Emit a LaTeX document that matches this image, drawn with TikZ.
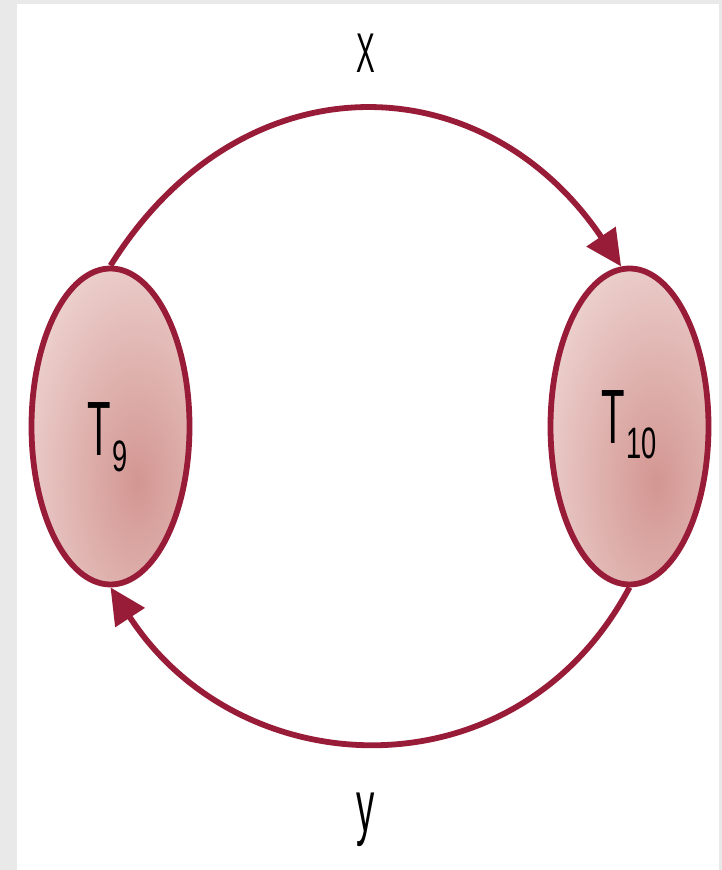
\documentclass[tikz,border=0pt]{standalone}
\usepackage{fontspec}
\newfontfamily\narrowsans[FakeStretch=0.5]{Liberation Sans}
\newfontfamily\narrowdigits[FakeStretch=0.62]{Liberation Sans}
\definecolor{cellred}{RGB}{152, 28, 56}
\definecolor{cellpale}{RGB}{246, 231, 228}
\definecolor{celldeep}{RGB}{211, 150, 146}
\definecolor{framegray}{RGB}{233, 233, 233}
\usepackage{tikz}
\usetikzlibrary{shapes.geometric, arrows.meta, positioning, calc}

\begin{document}
\begin{tikzpicture}[x=1pt, y=1pt,
    cell/.style={ellipse, draw=cellred, line width=5.8pt, fill=cellpale, minimum width=158pt, minimum height=316pt, inner sep=0pt,
      path picture={\shade[inner color=celldeep, outer color=cellpale] ([shift={(27pt,-56pt)}]path picture bounding box.center) ellipse [x radius=170pt, y radius=330pt];}},
    flow/.style={draw=cellred, line width=5.8pt, -{Triangle[length=36pt, width=34pt]}},
    cellname/.style={font=\narrowsans\fontsize{77pt}{77pt}\selectfont, inner sep=0pt}]
  \useasboundingbox (0,0) rectangle (722,870);
  \fill[framegray] (0,0) rectangle (722,870);
  \fill[white] (17,0) rectangle (719,866);

  % the two states
  \node[cell] (t9) at (110.5,443.5) {};
  \node[cell] (t10) at (629.5,443.5) {};
  \node[cellname] (t9name) at ([shift={(-3pt,-11pt)}]t9.center) {T\kern1pt\raisebox{-16pt}{\narrowdigits\fontsize{44pt}{44pt}\selectfont 9}};
  \node[cellname] (t10name) at ([shift={(-0.5pt,1.5pt)}]t10.center) {T\kern1pt\raisebox{-15pt}{\narrowdigits\fontsize{44pt}{44pt}\selectfont 10}};

  % transitions
  \draw[flow] (t9.north) to[out=58, in=124, looseness=1.24] (t10.93);
  \draw[flow] (t10.south) to[out=-118, in=-57, looseness=1.18] (t9.south);

  \node[font=\narrowsans\fontsize{56pt}{56pt}\selectfont, inner sep=0pt] (xlab) at (365.5,817) {X};
  \node[font=\narrowsans\fontsize{73pt}{73pt}\selectfont, inner sep=0pt] (ylab) at (366,50) {y};
\end{tikzpicture}
\end{document}
